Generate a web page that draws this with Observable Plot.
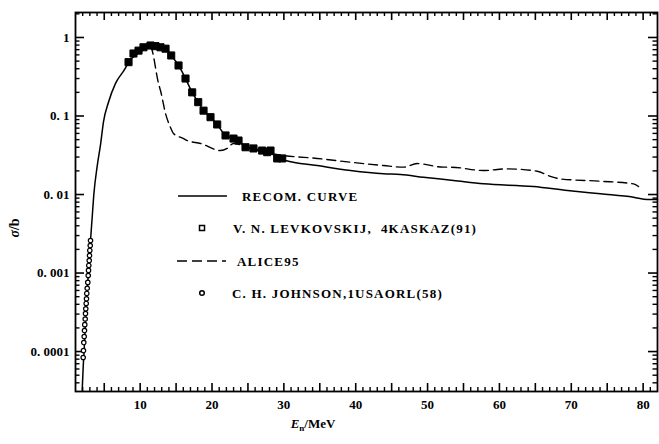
<!DOCTYPE html>
<html><head><meta charset="utf-8">
<script src="https://cdn.jsdelivr.net/npm/d3@7"></script>
<script src="https://cdn.jsdelivr.net/npm/@observablehq/plot@0.6"></script>
<style>
body{margin:0;background:#fff}
#chart svg{display:block}
</style>
</head><body><div id="chart"></div>
<script>
// Recommended curve (E in MeV, sigma in b)
const recomE = [1.93,2.07,2.25,2.4,2.63,2.85,3.09,3.32,3.55,4.02,4.48,4.9,5.59,6.57,7.96,8.38,9.35,10.3,11.44,12.13,12.83,13.53,14.32,15.34,16.31,17.24,18.08,18.82,19.79,20.72,21.88,22.99,23.69,24.66,25.77,26.98,28.14,29.07,30.23,34.64,39.28,43.87,46.23,49.43,53.6,57.79,64.74,69.48,74.07,78.66,80.61,82];
const recomS = [3.2e-5,6.3e-5,1.26e-4,2.7e-4,6.0e-4,1.17e-3,2.6e-3,5.1e-3,1.0e-2,2.3e-2,4.3e-2,0.085,0.15,0.26,0.41,0.49,0.59,0.68,0.79,0.775,0.75,0.72,0.59,0.44,0.30,0.20,0.15,0.117,0.0966,0.078,0.0565,0.0516,0.0487,0.040,0.0386,0.0363,0.034,0.0295,0.0271,0.0234,0.0202,0.01836,0.018,0.0166,0.0151,0.01368,0.01265,0.01125,0.0102,0.00924,0.00863,0.00863];

// ALICE95 calculation
const aliceE = [11.44,11.67,12.55,12.83,13.53,14.22,14.64,16.03,16.55,18.4,21.18,22.11,22.99,24.9,27.17,29.95,34.64,39.28,43.87,46.65,48.56,52.22,53.2,57.79,61.08,65.26,67.11,68.5,74.07,78.66,79.36];
const aliceS = [0.79,0.683,0.26,0.211,0.1076,0.0714,0.0598,0.0516,0.0487,0.0447,0.0363,0.0386,0.0447,0.040,0.0346,0.0314,0.0288,0.0258,0.0234,0.0223,0.0248,0.0223,0.0223,0.0202,0.0212,0.0198,0.017,0.0158,0.01477,0.01368,0.01265];

// V. N. Levkovskij, 4KASKAZ(91)
const levkE = [8.38,9.07,9.77,10.46,11.44,12.13,12.83,13.53,14.32,15.34,16.31,17.24,18.08,18.82,19.79,20.72,21.88,22.99,23.69,24.66,25.77,26.98,27.68,28.14,29.07,29.77];
const levkS = [0.485,0.625,0.68,0.75,0.79,0.775,0.75,0.72,0.59,0.44,0.30,0.20,0.15,0.117,0.0966,0.078,0.0565,0.0516,0.0487,0.040,0.0386,0.0363,0.0346,0.0363,0.0288,0.0288];

// C. H. Johnson, 1USAORL(58)
const johnE = [3.09,3.05,2.99,2.95,2.91,2.85,2.81,2.77,2.71,2.63,2.57,2.53,2.49,2.43,2.39,2.35,2.29,2.25,2.21,2.155,2.11,2.07];
const johnS = [2.59e-3,2.24e-3,1.94e-3,1.67e-3,1.44e-3,1.25e-3,1.08e-3,9.3e-4,7.6e-4,6.4e-4,5.5e-4,4.7e-4,4.1e-4,3.5e-4,3.05e-4,2.6e-4,2.2e-4,1.85e-4,1.55e-4,1.3e-4,1.03e-4,8.4e-5];

// Tick labels
const xTickValues = [10,20,30,40,50,60,70,80];
const yTickValues = [0.0001,0.001,0.01,0.1,1];
const yTickLabels = ["0. 0001","0. 001","0. 01","0. 1","1"];

const recom = recomE.map((e,i)=>({e, s: recomS[i]}));
const alice = aliceE.map((e,i)=>({e, s: aliceS[i]}));
const levk = levkE.map((e,i)=>({e, s: levkS[i]}));
const john = johnE.map((e,i)=>({e, s: johnS[i]}));

const xMinor = d3.range(2, 82).filter(d => d % 5 !== 0);
const xMajor = d3.range(5, 82, 5);
const yMinor = [];
for (let p = -5; p <= 0; p++) for (let k = 2; k <= 9; k++) { const v = k * Math.pow(10, p); if (v > 3.1e-5 && v < 2.08) yMinor.push(v); }

const font = "'Liberation Serif', 'DejaVu Serif', serif";
const W = 659, H = 444, ML = 75, MR = 2, MT = 12, MB = 53;
const PW = W - ML - MR, PH = H - MT - MB;

// inward ticks: full-frame tick marks shortened with insets
const tBottom = (v, len, sw) => Plot.tickX(v, {x: d => d, insetTop: PH - len, stroke: "#000", strokeWidth: sw});
const tTop = (v, len, sw) => Plot.tickX(v, {x: d => d, insetBottom: PH - len, stroke: "#000", strokeWidth: sw});
const tLeft = (v, len, sw) => Plot.tickY(v, {y: d => d, insetRight: PW - len, stroke: "#000", strokeWidth: sw});
const tRight = (v, len, sw) => Plot.tickY(v, {y: d => d, insetLeft: PW - len, stroke: "#000", strokeWidth: sw});

const chart = Plot.plot({
  width: W, height: H,
  marginLeft: ML, marginRight: MR, marginTop: MT, marginBottom: MB,
  style: {fontFamily: font, fontSize: "13px", fontWeight: "bold", background: "#fff", color: "#000"},
  x: {type: "linear", domain: [1, 82], axis: null},
  y: {type: "log", domain: [3.1e-5, 2.08], axis: null},
  marks: [
    tBottom(xMinor, 4, 1.4), tBottom(xMajor, 8, 1.6),
    tTop(xMinor, 4, 1.4), tTop(xMajor, 8, 1.6),
    tLeft(yMinor, 4.5, 1.4), tLeft(yTickValues, 9, 1.6),
    tRight(yMinor, 4.5, 1.4), tRight(yTickValues, 9, 1.6),
    Plot.frame({strokeWidth: 1.8}),
    // tick labels
    Plot.axisX(xTickValues, {anchor: "bottom", tickSize: 0, tickPadding: 8, label: null, tickFormat: d => String(d)}),
    Plot.axisY(yTickValues, {anchor: "left", tickSize: 0, tickPadding: 6, label: null, tickFormat: d => yTickLabels[yTickValues.indexOf(d)]}),
    // data
    Plot.line(alice, {x: "e", y: "s", stroke: "#000", strokeWidth: 1.4, strokeDasharray: "9,5", curve: "monotone-x"}),
    Plot.line(recom, {x: "e", y: "s", stroke: "#000", strokeWidth: 1.5, curve: "monotone-x"}),
    Plot.dot(levk, {x: "e", y: "s", symbol: "square", r: 4, fill: "#000", stroke: "#000", strokeWidth: 1}),
    Plot.dot(john, {x: "e", y: "s", symbol: "circle", r: 2.2, fill: "#fff", stroke: "#000", strokeWidth: 1.2})
  ]
});

document.getElementById("chart").appendChild(chart);

const svg = d3.select(chart);

// axis titles and in-plot legend
const g = svg.append("g").attr("font-family", font).attr("font-weight", "bold").attr("fill", "#000").attr("text-anchor", "start");

const xt = g.append("text").attr("x", 313).attr("y", 428).attr("text-anchor", "middle").attr("font-size", 13);
xt.append("tspan").attr("font-style", "italic").text("E");
xt.append("tspan").attr("font-size", 9).attr("dy", 3).text("n");
xt.append("tspan").attr("dy", -3).text("/MeV");

g.append("text").attr("transform", "translate(19,228) rotate(-90)").attr("text-anchor", "middle").attr("font-size", 14)
  .html('<tspan font-style="italic">σ</tspan>/b');

const legend = [
  {label: "RECOM. CURVE", type: "solid", tx: 242, y: 196},
  {label: "V. N. LEVKOVSKIJ,  4KASKAZ(91)", type: "square", tx: 233, y: 228},
  {label: "ALICE95", type: "dashed", tx: 237, y: 261},
  {label: "C. H. JOHNSON,1USAORL(58)", type: "circle", tx: 232, y: 293}
];
for (const it of legend) {
  if (it.type === "solid") g.append("line").attr("x1", 178).attr("x2", 227).attr("y1", it.y).attr("y2", it.y).attr("stroke", "#000").attr("stroke-width", 1.3);
  if (it.type === "dashed") g.append("line").attr("x1", 177).attr("x2", 226).attr("y1", it.y).attr("y2", it.y).attr("stroke", "#000").attr("stroke-width", 1.4).attr("stroke-dasharray", "10,5");
  if (it.type === "square") g.append("rect").attr("x", 199.5).attr("y", it.y - 2.5).attr("width", 5).attr("height", 5).attr("fill", "#fff").attr("stroke", "#000").attr("stroke-width", 1.5);
  if (it.type === "circle") g.append("circle").attr("cx", 202).attr("cy", it.y).attr("r", 2.3).attr("fill", "#fff").attr("stroke", "#000").attr("stroke-width", 1.5);
  g.append("text").attr("x", it.tx).attr("y", it.y).attr("dy", "0.35em").attr("text-anchor", "start").attr("font-size", 13).attr("letter-spacing", "1.2px").text(it.label);
}
</script>
</body></html>
